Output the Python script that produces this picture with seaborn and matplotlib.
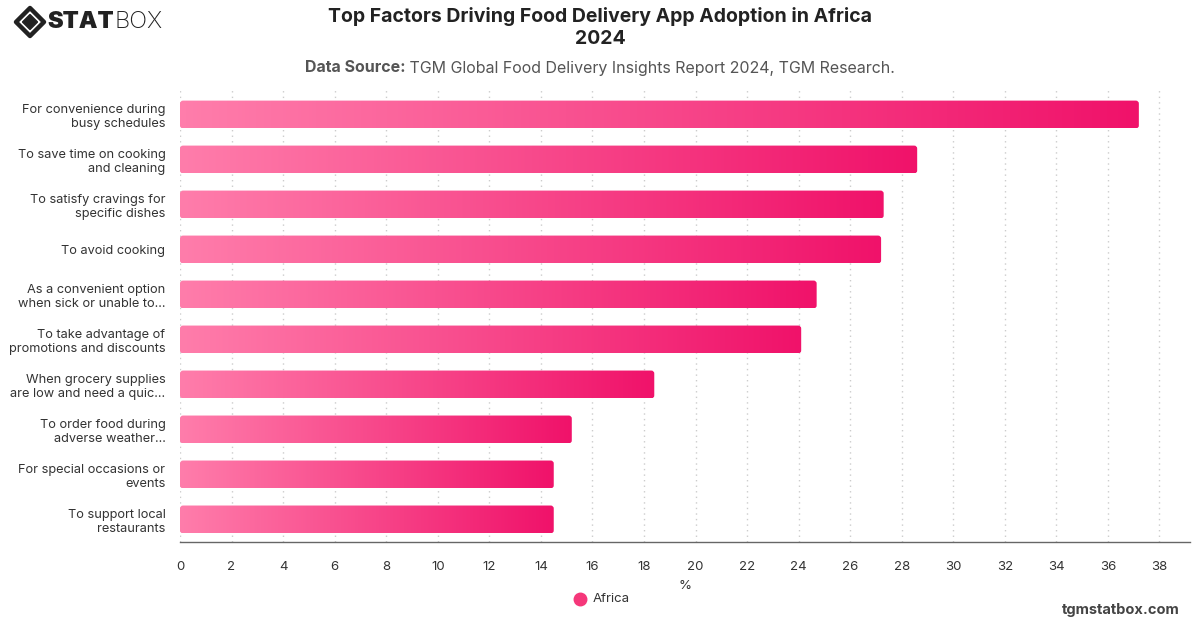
import numpy as np
import pandas as pd
import matplotlib
matplotlib.use("Agg")
import matplotlib.pyplot as plt
import seaborn as sns
from matplotlib.patches import FancyBboxPatch, Polygon
from matplotlib.colors import LinearSegmentedColormap

categories = [
    "For convenience during\nbusy schedules",
    "To save time on cooking\nand cleaning",
    "To satisfy cravings for\nspecific dishes",
    "To avoid cooking",
    "As a convenient option\nwhen sick or unable to...",
    "To take advantage of\npromotions and discounts",
    "When grocery supplies\nare low and need a quic...",
    "To order food during\nadverse weather...",
    "For special occasions or\nevents",
    "To support local\nrestaurants",
]
values = [37.2, 28.6, 27.3, 27.2, 24.7, 24.1, 18.4, 15.2, 14.5, 14.5]
x_ticks = list(range(0, 40, 2))
series_name = "Africa"

sns.set_theme(style="white")
plt.rcParams["font.family"] = ["Inter", "DejaVu Sans"]

W, H = 1200, 628
fig = plt.figure(figsize=(12, 6.28), dpi=100)
ax = fig.add_axes([0.15, 0.137, 0.842, 0.72])

df = pd.DataFrame({"factor": categories, "value": values})
sns.barplot(data=df, y="factor", x="value", orient="h", ax=ax, color="#F5246F",
            width=0.62, order=categories)

cmap = LinearSegmentedColormap.from_list("pinkgrad", ["#FF7DAB", "#F0126A"])
grad = np.linspace(0, 1, 256).reshape(1, -1)
for p in list(ax.patches):
    x0, y0 = p.get_x(), p.get_y()
    w, h = p.get_width(), p.get_height()
    p.set_visible(False)
    rp = FancyBboxPatch((x0, y0), w, h,
                        boxstyle="round,pad=0,rounding_size=0.12",
                        mutation_aspect=0.55, facecolor="none", edgecolor="none",
                        transform=ax.transData)
    ax.add_patch(rp)
    im = ax.imshow(grad, cmap=cmap, aspect="auto",
                   extent=(x0, x0 + w, y0 + h, y0), zorder=2, interpolation="bicubic")
    im.set_clip_path(rp)

ax.set_xlim(0, 39.2)
ax.set_ylim(len(categories) - 0.5, -0.55)
ax.set_xticks(x_ticks)
ax.set_xticklabels([str(t) for t in x_ticks], fontsize=9.5, color="#333333")
ax.tick_params(axis="y", labelsize=9.2, colors="#333333", length=0, pad=10.5)
ax.tick_params(axis="x", length=0, pad=14)
for lbl in ax.get_yticklabels():
    lbl.set_horizontalalignment("right")
    lbl.set_multialignment("right")

ax.set_ylabel("")
ax.set_xlabel("%", fontsize=9.5, color="#333333", labelpad=5)
ax.grid(axis="x", linestyle=(0, (1, 3)), color="#cccccc", linewidth=1)
ax.set_axisbelow(True)
for s in ["top", "right", "left"]:
    ax.spines[s].set_visible(False)
ax.spines["bottom"].set_color("#666666")
ax.spines["bottom"].set_linewidth(1)

# Title
fig.text(0.5, 1 - 7 / H, "Top Factors Driving Food Delivery App Adoption in Africa\n2024",
         ha="center", va="top", fontsize=14, fontweight="bold", color="#222222",
         linespacing=1.25)

renderer = fig.canvas.get_renderer()
# Subtitle centered overall
sub_y = 1 - 68 / H
t1 = fig.text(0, sub_y, "Data Source:", ha="left", va="center", fontsize=11.5,
              fontweight="bold", color="#555555")
t2 = fig.text(0, sub_y, " TGM Global Food Delivery Insights Report 2024, TGM Research.",
              ha="left", va="center", fontsize=11.5, color="#555555")
w1 = t1.get_window_extent(renderer).width
w2 = t2.get_window_extent(renderer).width
start = (W - (w1 + w2)) / 2
t1.set_x(start / W)
t2.set_x((start + w1) / W)

# Logo
logo_y = 1 - 22 / H
cx, cy, r = 30, 22, 14
outer = [(cx - r, cy), (cx, cy - r), (cx + r, cy), (cx, cy + r)]
inner_r = 7.5
inner = [(cx - inner_r, cy), (cx, cy - inner_r), (cx + inner_r, cy), (cx, cy + inner_r)]
def tofig(pts):
    return [(x / W, 1 - y / H) for x, y in pts]
fig.patches.append(Polygon(tofig(outer), closed=True, fill=False, edgecolor="#222222",
                           linewidth=3.2, transform=fig.transFigure, joinstyle="round"))
fig.patches.append(Polygon(tofig(inner), closed=True, facecolor="#222222",
                           edgecolor="#222222", linewidth=1, transform=fig.transFigure))
ts = fig.text(47 / W, logo_y, "STAT", ha="left", va="center", fontsize=17,
              fontweight="black", color="#222222")
ws = ts.get_window_extent(renderer).width
fig.text((47 + ws + 1) / W, logo_y, "BOX", ha="left", va="center", fontsize=17,
         fontweight="light", color="#222222")

# Legend
fig.lines.append(plt.Line2D([580 / W], [1 - 599 / H], marker="o", markersize=9,
                            color="#F5377A", transform=fig.transFigure, linestyle="none"))
fig.text(593 / W, 1 - 599 / H, series_name, ha="left", va="center", fontsize=9.5,
         color="#333333")

fig.text(0.983, 0.018, "tgmstatbox.com", ha="right", va="bottom", fontsize=10.5,
         fontweight="bold", color="#444444")

fig.savefig("out.png", dpi=100)
